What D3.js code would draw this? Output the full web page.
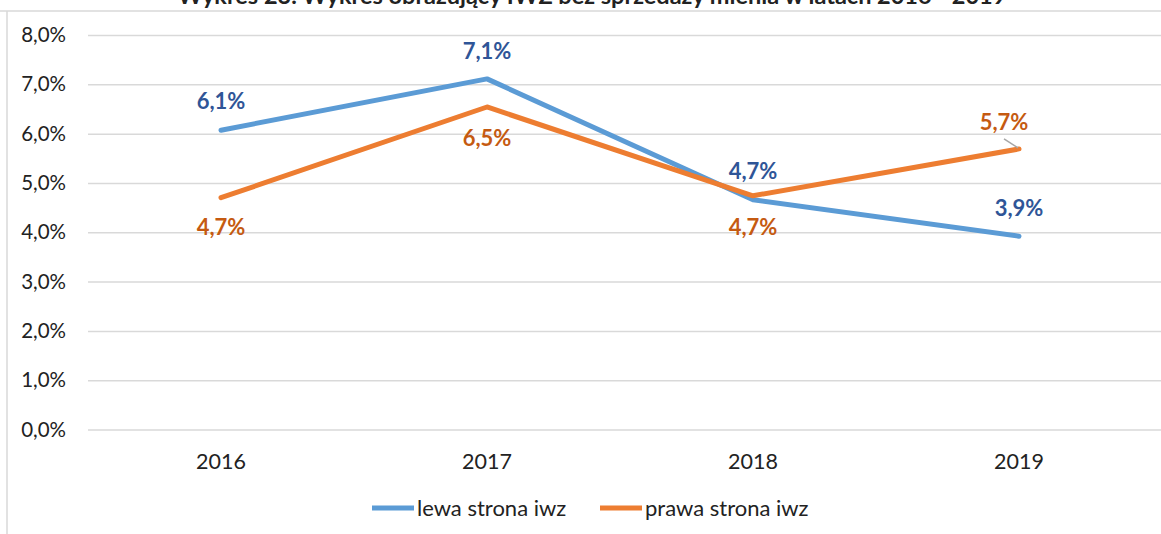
<!DOCTYPE html>
<html>
<head>
<meta charset="utf-8">
<script src="https://cdn.jsdelivr.net/npm/d3@7"></script>
<style>
  body { margin: 0; background: #fff; }
  svg { display: block; font-family: Lato, "Open Sans", sans-serif; }
</style>
</head>
<body>
<svg id="chart" width="1161" height="534"></svg>
<script>
var years = ["2016", "2017", "2018", "2019"];
var lewa = [6.07, 7.11, 4.66, 3.92];
var prawa = [4.70, 6.54, 4.74, 5.69];
var yTicks = [0, 1, 2, 3, 4, 5, 6, 7, 8];
var seriesNames = ["lewa strona iwz", "prawa strona iwz"];
var title = "Wykres 23. Wykres obrazujący IWZ bez sprzedaży mienia w latach 2016 - 2019";

var svg = d3.select("#chart");
var fmt = function(v) { return v.toFixed(1).replace(".", ",") + "%"; };

// frame of the chart area
svg.append("line").attr("x1", 0).attr("x2", 1161).attr("y1", 11).attr("y2", 11)
  .attr("stroke", "#d9d9d9").attr("stroke-width", 1.5);
svg.append("line").attr("x1", 7).attr("x2", 7).attr("y1", 11).attr("y2", 534)
  .attr("stroke", "#d9d9d9").attr("stroke-width", 1.5);

// title, cut at the top like in the source
svg.append("text").attr("x", 592).attr("y", 4)
  .attr("text-anchor", "middle").attr("font-size", 23.5).attr("font-weight", "bold")
  .attr("fill", "#222").text(title);

var x = d3.scaleBand().domain(years).range([88, 1152]);
var y = d3.scaleLinear().domain([0, 8]).range([429.5, 35]);

// gridlines + y labels
var yAxis = svg.append("g").attr("transform", "translate(88,0)")
  .call(d3.axisLeft(y).tickValues(yTicks).tickSize(-1073).tickFormat(fmt));
yAxis.select(".domain").remove();
yAxis.selectAll(".tick line").attr("stroke", "#d9d9d9").attr("stroke-width", 1.5);
yAxis.selectAll(".tick text").attr("x", -22).attr("font-size", 20.5)
  .attr("font-family", "Lato, sans-serif").attr("fill", "#222");

// x labels
var xAxis = svg.append("g").attr("transform", "translate(0,429.5)")
  .call(d3.axisBottom(x).tickSize(0));
xAxis.select(".domain").remove();
xAxis.selectAll(".tick text").attr("dy", 0).attr("y", 39).attr("font-size", 21.5)
  .attr("font-family", "Lato, sans-serif").attr("fill", "#222");

var cx = function(i) { return x(years[i]) + x.bandwidth() / 2; };
var line = d3.line().x(function(d, i) { return cx(i); }).y(function(d) { return y(d); });

svg.append("path").datum(lewa).attr("d", line).attr("fill", "none")
  .attr("stroke", "#5b9bd5").attr("stroke-width", 5).attr("stroke-linecap", "round").attr("stroke-linejoin", "round");
svg.append("path").datum(prawa).attr("d", line).attr("fill", "none")
  .attr("stroke", "#ed7d31").attr("stroke-width", 5).attr("stroke-linecap", "round").attr("stroke-linejoin", "round");

// data labels
var lewaOff = [-21, -20, -21, -20];
var prawaOff = [37, 39, 39, -19];
var prawaDx = [0, 0, 0, -15];

svg.selectAll(".lbl-l").data(lewa).enter().append("text")
  .attr("x", function(d, i) { return cx(i); })
  .attr("y", function(d, i) { return y(d) + lewaOff[i]; })
  .attr("text-anchor", "middle").attr("font-size", 22).attr("font-weight", "bold")
  .attr("fill", "#2f5597").text(fmt);

svg.selectAll(".lbl-p").data(prawa).enter().append("text")
  .attr("x", function(d, i) { return cx(i) + prawaDx[i]; })
  .attr("y", function(d, i) { return y(d) + prawaOff[i]; })
  .attr("text-anchor", "middle").attr("font-size", 22).attr("font-weight", "bold")
  .attr("fill", "#c55a11").text(fmt);

// leader line for the last orange label
svg.append("line").attr("x1", cx(3) - 15).attr("y1", y(prawa[3]) - 10)
  .attr("x2", cx(3) - 1).attr("y2", y(prawa[3]) - 1)
  .attr("stroke", "#a6a6a6").attr("stroke-width", 1.5);

// legend
var legend = svg.append("g");
var legItems = [
  { name: seriesNames[0], color: "#5b9bd5", x: 372 },
  { name: seriesNames[1], color: "#ed7d31", x: 600 }
];
legItems.forEach(function(it) {
  legend.append("line").attr("x1", it.x).attr("x2", it.x + 42).attr("y1", 508).attr("y2", 508)
    .attr("stroke", it.color).attr("stroke-width", 5);
  legend.append("text").attr("x", it.x + 45).attr("y", 516).attr("font-size", 22)
    .attr("fill", "#222").text(it.name);
});
</script>
</body>
</html>
